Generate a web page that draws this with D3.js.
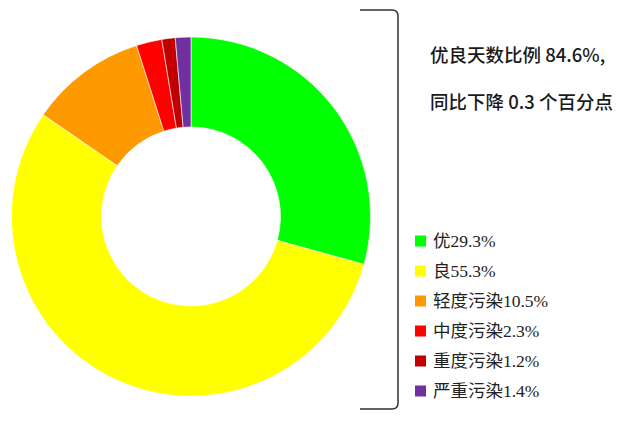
<!DOCTYPE html>
<html>
<head>
<meta charset="utf-8">
<script src="https://cdn.jsdelivr.net/npm/d3@7"></script>
<style>
  html, body { margin: 0; padding: 0; background: #fff; }
  svg { display: block; }
</style>
</head>
<body>
<div id="chart"></div>
<script>
const width = 623;
const height = 422;

// data
const categories = ['优', '良', '轻度污染', '中度污染', '重度污染', '严重污染'];
const shares = [29.3, 55.3, 10.5, 2.3, 1.2, 1.4];
const colors = ['#00ff00', '#ffff00', '#ff9900', '#ff0000', '#c00000', '#7030a0'];
const noteLines = ['优良天数比例 84.6%,', '同比下降 0.3 个百分点'];

const cx = 191, cy = 216.5;
const outerR = 179.5, innerR = 89.5;

const slices = categories.map((name, i) => ({ name, value: shares[i], color: colors[i] }));

const svg = d3.select('#chart')
  .append('svg')
  .attr('width', width)
  .attr('height', height);

const pie = d3.pie()
  .value(d => d.value)
  .sort(null);

const arc = d3.arc()
  .innerRadius(innerR)
  .outerRadius(outerR);

svg.append('g')
  .attr('transform', `translate(${cx},${cy})`)
  .selectAll('path')
  .data(pie(slices))
  .join('path')
  .attr('d', arc)
  .attr('fill', d => d.data.color)
  .attr('stroke', '#fff')
  .attr('stroke-width', 0.6);

// bracket on the right
const bx0 = 360, bx1 = 398, by0 = 10, by1 = 409, r = 6;
svg.append('path')
  .attr('d', `M${bx0},${by0} L${bx1 - r},${by0} Q${bx1},${by0} ${bx1},${by0 + r}
              L${bx1},${by1 - r} Q${bx1},${by1} ${bx1 - r},${by1} L${bx0},${by1}`)
  .attr('fill', 'none')
  .attr('stroke', '#333')
  .attr('stroke-width', 1.5);

// note text
svg.append('g')
  .selectAll('text')
  .data(noteLines)
  .join('text')
  .attr('x', 430)
  .attr('y', (d, i) => 62 + i * 47)
  .attr('font-family', '"Noto Sans CJK SC", "Noto Sans", sans-serif')
  .attr('font-size', 18.5)
  .attr('font-weight', 500)
  .attr('fill', '#1a1a1a')
  .text(d => d);

// legend
const legendY = d3.scaleBand()
  .domain(categories)
  .range([226, 406]);

const legend = svg.append('g')
  .selectAll('g')
  .data(slices)
  .join('g')
  .attr('transform', d => `translate(415,${legendY(d.name) + legendY.bandwidth() / 2})`);

legend.append('rect')
  .attr('y', -5.5)
  .attr('width', 11)
  .attr('height', 11)
  .attr('fill', d => d.color);

legend.append('text')
  .attr('x', 18)
  .attr('y', 6)
  .attr('font-family', '"Liberation Serif", "Noto Sans CJK SC", serif')
  .attr('font-size', 17.5)
  .attr('fill', '#222')
  .text(d => d.name + d.value.toFixed(1) + '%');
</script>
</body>
</html>
